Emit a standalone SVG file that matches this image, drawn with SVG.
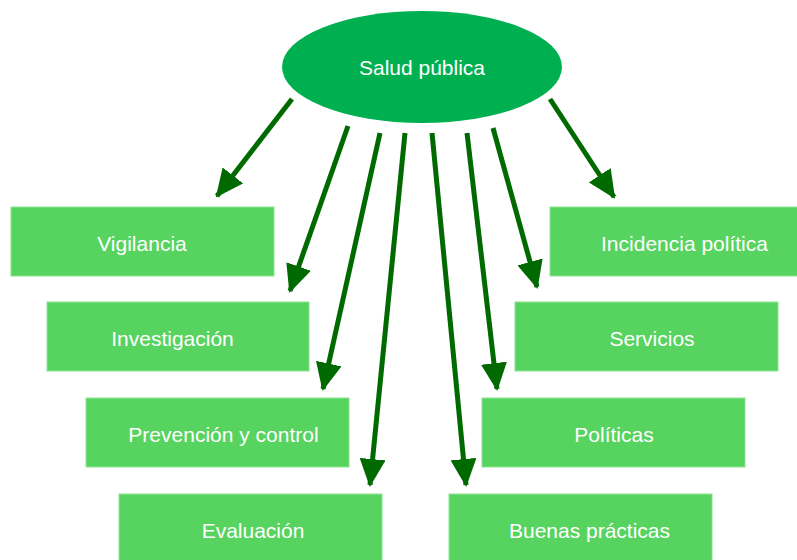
<svg xmlns="http://www.w3.org/2000/svg" width="797" height="560" viewBox="0 0 797 560">
<style>
.box{fill:#57d35f;stroke:#8fe393;stroke-width:1}
.lbl{fill:#ffffff;font-family:"Liberation Sans",Arial,sans-serif;font-size:21px;text-anchor:middle}
.arr{stroke:#006a00;stroke-width:5;fill:none;marker-end:url(#ah)}
</style>
<defs>
<marker id="ah" markerUnits="userSpaceOnUse" markerWidth="28" markerHeight="26" refX="26" refY="13" orient="auto" viewBox="0 0 28 26">
<path d="M0,0 L28,13 L0,26 Z" fill="#006a00"/>
</marker>
</defs>
<rect width="797" height="560" fill="#ffffff"/>
<g id="salud-publica">
<ellipse cx="422" cy="67" rx="140" ry="56" fill="#00b050"/>
<text class="lbl" x="422" y="75">Salud pública</text>
</g>
<g id="vigilancia"><rect class="box" x="11" y="207" width="263" height="69"/><text class="lbl" x="142" y="251">Vigilancia</text></g>
<g id="investigacion"><rect class="box" x="47" y="302" width="262" height="69"/><text class="lbl" x="172.5" y="346">Investigación</text></g>
<g id="prevencion"><rect class="box" x="86" y="398" width="263" height="69"/><text class="lbl" x="223.5" y="442">Prevención y control</text></g>
<g id="evaluacion"><rect class="box" x="119" y="494" width="263" height="70"/><text class="lbl" x="253" y="538">Evaluación</text></g>
<g id="incidencia"><rect class="box" x="550" y="207" width="250" height="69"/><text class="lbl" x="684.5" y="251">Incidencia política</text></g>
<g id="servicios"><rect class="box" x="515" y="302" width="263" height="69"/><text class="lbl" x="652" y="346">Servicios</text></g>
<g id="politicas"><rect class="box" x="482" y="398" width="263" height="69"/><text class="lbl" x="614" y="442">Políticas</text></g>
<g id="buenas-practicas"><rect class="box" x="449" y="494" width="263" height="70"/><text class="lbl" x="589.5" y="538">Buenas prácticas</text></g>
<g id="connectors">
<line class="arr" x1="292" y1="99" x2="217" y2="196"/>
<line class="arr" x1="348" y1="126" x2="290" y2="291"/>
<line class="arr" x1="380" y1="133" x2="323" y2="389"/>
<line class="arr" x1="405" y1="133" x2="370" y2="485"/>
<line class="arr" x1="432" y1="133" x2="466" y2="485"/>
<line class="arr" x1="467" y1="133" x2="497" y2="389"/>
<line class="arr" x1="493" y1="128" x2="537" y2="287"/>
<line class="arr" x1="550" y1="99" x2="614" y2="197"/>
</g>
</svg>
